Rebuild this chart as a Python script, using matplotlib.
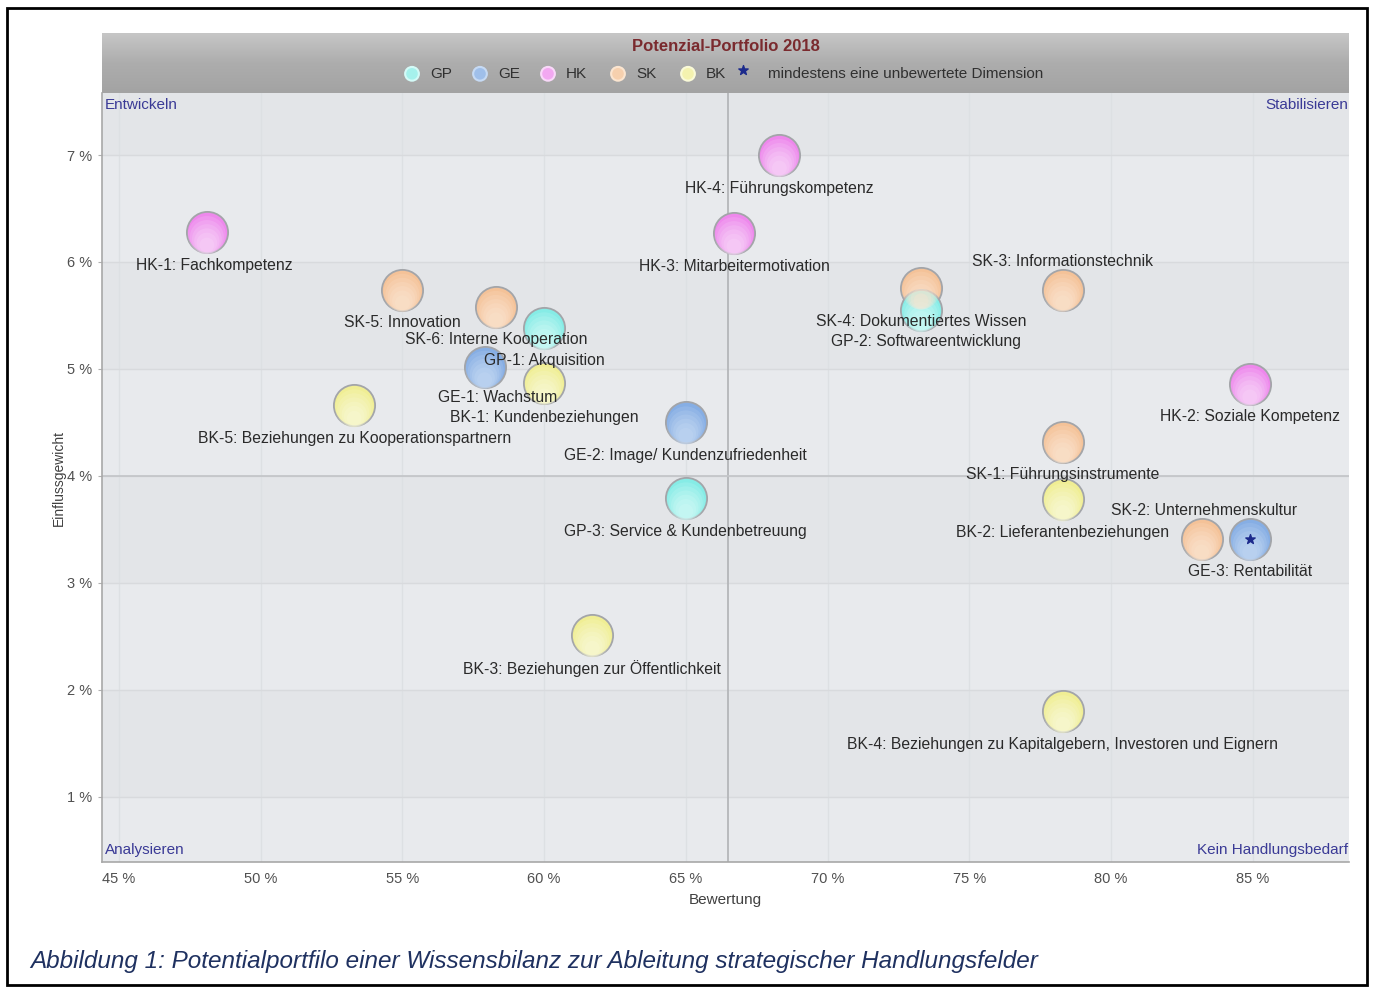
import matplotlib
matplotlib.use("Agg")
import matplotlib.pyplot as plt
import numpy as np
from matplotlib.patches import Rectangle
from matplotlib.transforms import ScaledTranslation
from matplotlib.colors import LinearSegmentedColormap

plt.rcParams['font.family'] = ['Liberation Sans', 'DejaVu Sans']

# ---- data -------------------------------------------------------------
codes = ["HK-1", "HK-4", "HK-3", "SK-5", "SK-6", "GP-1", "GE-1", "BK-1",
         "BK-5", "GE-2", "GP-3", "BK-3", "SK-4", "GP-2", "SK-3", "HK-2",
         "SK-1", "BK-2", "SK-2", "GE-3", "BK-4"]
names = ["Fachkompetenz", "Führungskompetenz", "Mitarbeitermotivation",
         "Innovation", "Interne Kooperation", "Akquisition", "Wachstum",
         "Kundenbeziehungen", "Beziehungen zu Kooperationspartnern",
         "Image/ Kundenzufriedenheit", "Service & Kundenbetreuung",
         "Beziehungen zur Öffentlichkeit", "Dokumentiertes Wissen",
         "Softwareentwicklung", "Informationstechnik", "Soziale Kompetenz",
         "Führungsinstrumente", "Lieferantenbeziehungen",
         "Unternehmenskultur", "Rentabilität",
         "Beziehungen zu Kapitalgebern, Investoren und Eignern"]
bewertung = [48.1, 68.3, 66.7, 55.0, 58.3, 60.0, 57.9, 60.0,
             53.3, 65.0, 65.0, 61.7, 73.3, 73.3, 78.3, 84.9,
             78.3, 78.3, 83.2, 84.9, 78.3]
einfluss = [6.28, 7.00, 6.27, 5.74, 5.58, 5.38, 5.02, 4.87,
            4.66, 4.50, 3.79, 2.51, 5.76, 5.55, 5.74, 4.86,
            4.32, 3.78, 3.41, 3.41, 1.80]
unbewertet = ["GE-3"]

groups = ["GP", "GE", "HK", "SK", "BK"]
x_ticks = [45, 50, 55, 60, 65, 70, 75, 80, 85]
y_ticks = [1, 2, 3, 4, 5, 6, 7]
x_mid = 66.5
y_mid = 4.0

# ---- styles -----------------------------------------------------------
base_col = {"GP": "#86ece6", "GE": "#86aee4", "HK": "#ee88ec",
            "SK": "#f4c298", "BK": "#f0ee94"}
light_col = {"GP": "#d4faf7", "GE": "#c6daf4", "HK": "#f9d8f9",
             "SK": "#fbe5d0", "BK": "#fafad8"}
# label offsets in pixels (dx, dy), default below the bubble
lbl_off = {"HK-1": (7, -33), "GE-1": (13, -31), "GP-2": (5, -31),
           "SK-3": (0, 28), "SK-2": (2, 28), "SK-4": (0, -34),
           "GP-1": (0, -32), "BK-1": (0, -35)}
FS = 11.3

W, H = 1375, 988
fig = plt.figure(figsize=(W / 100, H / 100), dpi=100)
fig.patch.set_facecolor("white")

def fx(px):
    return px / W

def fy(py):
    return 1 - py / H

L, R, T, B = 102, 1349, 93, 862
ax = fig.add_axes([fx(L), fy(B), fx(R - L), fy(T) - fy(B)])
ax.set_xlim(44.4, 88.4)
ax.set_ylim(0.39, 7.58)
ax.set_facecolor("#e6e8eb")

# alternating horizontal bands
edges = [0.39] + y_ticks + [7.58]
for i in range(len(edges) - 1):
    c = "#e3e5e8" if i % 2 == 1 else "#e8eaed"
    ax.axhspan(edges[i], edges[i + 1], color=c, zorder=0, lw=0)

for xv in x_ticks:
    ax.axvline(xv, color="#dde0e3", lw=1, zorder=0.5)
for yv in y_ticks:
    ax.axhline(yv, color="#d8dadd", lw=1, zorder=0.5)
ax.axvline(x_mid, color="#b4b6b9", lw=1.3, zorder=0.6)
ax.axhline(y_mid, color="#c4c6c9", lw=1.3, zorder=0.6)

for s in ["top", "right"]:
    ax.spines[s].set_visible(False)
for s in ["left", "bottom"]:
    ax.spines[s].set_color("#a8a8a8")
    ax.spines[s].set_linewidth(1.2)

ax.set_xticks(x_ticks)
ax.set_xticklabels([f"{v} %" for v in x_ticks])
ax.set_yticks(y_ticks)
ax.set_yticklabels([f"{v} %" for v in y_ticks])
ax.tick_params(axis="both", colors="#b0b0b0", labelcolor="#505050",
               labelsize=10.5, length=3)
ax.tick_params(axis="x", pad=7, length=0)
ax.tick_params(axis="y", pad=4)
ax.set_xlabel("Bewertung", fontsize=11, color="#404040", labelpad=5)
ax.set_ylabel("Einflussgewicht", fontsize=10, color="#404040")
ax.yaxis.set_label_coords((66 - L) / (R - L), 0.5)

# bubbles: base disk with a soft lighter shading toward the bottom
size = 880
layers = [(0.85, -3, 0.18), (0.68, -5, 0.2), (0.52, -7, 0.22),
          (0.38, -9, 0.25), (0.25, -11, 0.28), (0.13, -13, 0.3)]
for code, xv, yv in zip(codes, bewertung, einfluss):
    g = code.split("-")[0]
    ax.scatter([xv], [yv], s=size, color=base_col[g], edgecolors="#a3a5a9",
               linewidths=1.3, zorder=3)
    for k, (sf, dy, a) in enumerate(layers):
        tr = ax.transData + ScaledTranslation(0, dy / 100, fig.dpi_scale_trans)
        ax.scatter([xv], [yv], s=size * sf, color=light_col[g],
                   edgecolors="none", zorder=3.1 + k * 0.01, alpha=a,
                   transform=tr)
    if code in unbewertet:
        ax.scatter([xv], [yv], s=50, marker="*", color="#1c2a8c", zorder=4)

for code, name, xv, yv in zip(codes, names, bewertung, einfluss):
    dx, dy = lbl_off.get(code, (0, -33))
    tr = ax.transData + ScaledTranslation(dx / 100, dy / 100, fig.dpi_scale_trans)
    ax.text(xv, yv, f"{code}: {name}", transform=tr, ha="center",
            va="center", fontsize=FS, color="#2a2a2a", zorder=5)

# quadrant captions
qc = "#3a3a96"
ax.text(0.002, 0.985, "Entwickeln", transform=ax.transAxes, ha="left",
        va="center", fontsize=11, color=qc)
ax.text(0.999, 0.985, "Stabilisieren", transform=ax.transAxes, ha="right",
        va="center", fontsize=11, color=qc)
ax.text(0.002, 0.016, "Analysieren", transform=ax.transAxes, ha="left",
        va="center", fontsize=11, color=qc)
ax.text(0.999, 0.016, "Kein Handlungsbedarf", transform=ax.transAxes,
        ha="right", va="center", fontsize=11, color=qc)

# header band with title and legend
hax = fig.add_axes([fx(L), fy(T), fx(R - L), fy(33) - fy(T)])
grad = np.linspace(0, 1, 64).reshape(-1, 1)
cmap = LinearSegmentedColormap.from_list("hdr", ["#c6c6c6", "#adadad", "#a3a3a3"])
hax.imshow(grad, aspect="auto", cmap=cmap, extent=[0, 1, 0, 1],
           origin="upper")
hax.set_xlim(0, 1)
hax.set_ylim(0, 1)
hax.axis("off")
hax.text(0.5, 0.77, "Potenzial-Portfolio 2018", ha="center", va="center",
         fontsize=12, fontweight="bold", color="#7a2a2e")

leg_y = 0.32
circ_px = [412, 480, 548, 618, 688]
for g, cx in zip(groups, circ_px):
    xx = (cx - L) / (R - L)
    hax.scatter([xx], [leg_y], s=130, color=light_col[g], edgecolors="none",
                zorder=3)
    hax.scatter([xx], [leg_y], s=70, color=base_col[g], edgecolors="none",
                zorder=3, alpha=0.6)
    hax.text(xx + 18 / (R - L), leg_y, g, ha="left", va="center",
             fontsize=11, color="#303030")
hax.scatter([(743 - L) / (R - L)], [leg_y + 0.06], s=50, marker="*",
            color="#1c2a8c", zorder=3)
hax.text((768 - L) / (R - L), leg_y, "mindestens eine unbewertete Dimension",
         ha="left", va="center", fontsize=11, color="#303030")

# figure caption and frame
fig.text(fx(30), fy(961), "Abbildung 1: Potentialportfilo einer Wissensbilanz "
         "zur Ableitung strategischer Handlungsfelder", ha="left",
         va="center", fontsize=17.5, style="italic", color="#1f3160")
fig.patches.append(Rectangle((fx(7), fy(985)), fx(1367 - 7), fy(8) - fy(985),
                             transform=fig.transFigure, fill=False,
                             edgecolor="black", lw=2))

fig.savefig("out.png", dpi=100)
